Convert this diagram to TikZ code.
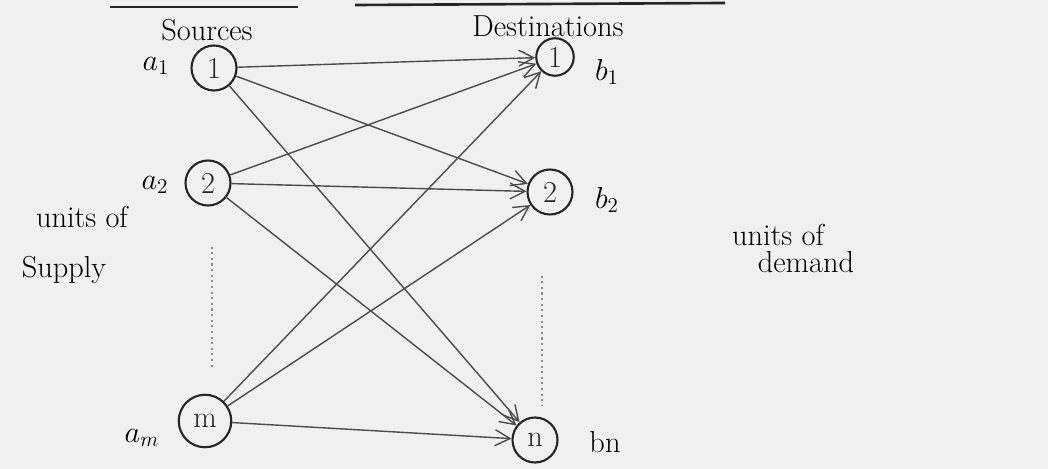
\documentclass[tikz,border=0pt]{standalone}
\usetikzlibrary{arrows.meta}
\begin{document}
\begin{tikzpicture}[x=0.02cm, y=-0.02cm, >={Straight Barb[length=3mm,width=3.2mm]},
    station/.style={draw, circle, very thick, black!85, minimum size=0.9cm, inner sep=0pt, font=\LARGE},
    route/.style={->, thick, black!70}]
    \fill[black!6] (0,0) rectangle (1048,469);
    \useasboundingbox (0,0) rectangle (1048,469);

    \draw[line width=1.5pt, black!85] (110,7) -- (298,7);
    \draw[line width=1.5pt, black!85] (355,5) -- (725,3);

    \node[font=\LARGE] (srclabel) at (207,30) {Sources};
    \node[font=\LARGE] (dstlabel) at (548,26) {Destinations};

    \node[station] (src1) at (214,68) {1};
    \node[station] (src2) at (208,183) {2};
    \node[station, minimum size=1.05cm] (srcm) at (205,421) {m};

    \node[station, minimum size=0.75cm] (dst1) at (555,57) {1};
    \node[station] (dst2) at (550,192) {2};
    \node[station] (dstn) at (535,440) {n};

    \node[font=\LARGE] (a1) at (156,66) {$a_1$};
    \node[font=\LARGE] (a2) at (155,185) {$a_2$};
    \node[font=\LARGE] (am) at (142,438) {$a_m$};
    \node[font=\LARGE] (b1) at (607,72) {$b_1$};
    \node[font=\LARGE] (b2) at (607,200) {$b_2$};
    \node[font=\LARGE] (bn) at (605,442) {bn};

    \node[font=\LARGE] (supply1) at (82,217) {units of};
    \node[font=\LARGE] (supply2) at (64,270) {Supply};
    \node[font=\LARGE] (demand1) at (778,235) {units of};
    \node[font=\LARGE] (demand2) at (806,262) {demand};

    \draw[dotted, very thick, black!45] (src2.south) ++(4,40) -- ++(0,120);
    \draw[dotted, very thick, black!45] (dst2.south) ++(-8,60) -- ++(0,130);

    \draw[route] (src1) -- (dst1);
    \draw[route] (src1) -- (dst2);
    \draw[route] (src1) -- (dstn);
    \draw[route] (src2) -- (dst1);
    \draw[route] (src2) -- (dst2);
    \draw[route] (src2) -- (dstn);
    \draw[route] (srcm) -- (dst1);
    \draw[route] (srcm) -- (dst2);
    \draw[route] (srcm) -- (dstn);
\end{tikzpicture}
\end{document}
